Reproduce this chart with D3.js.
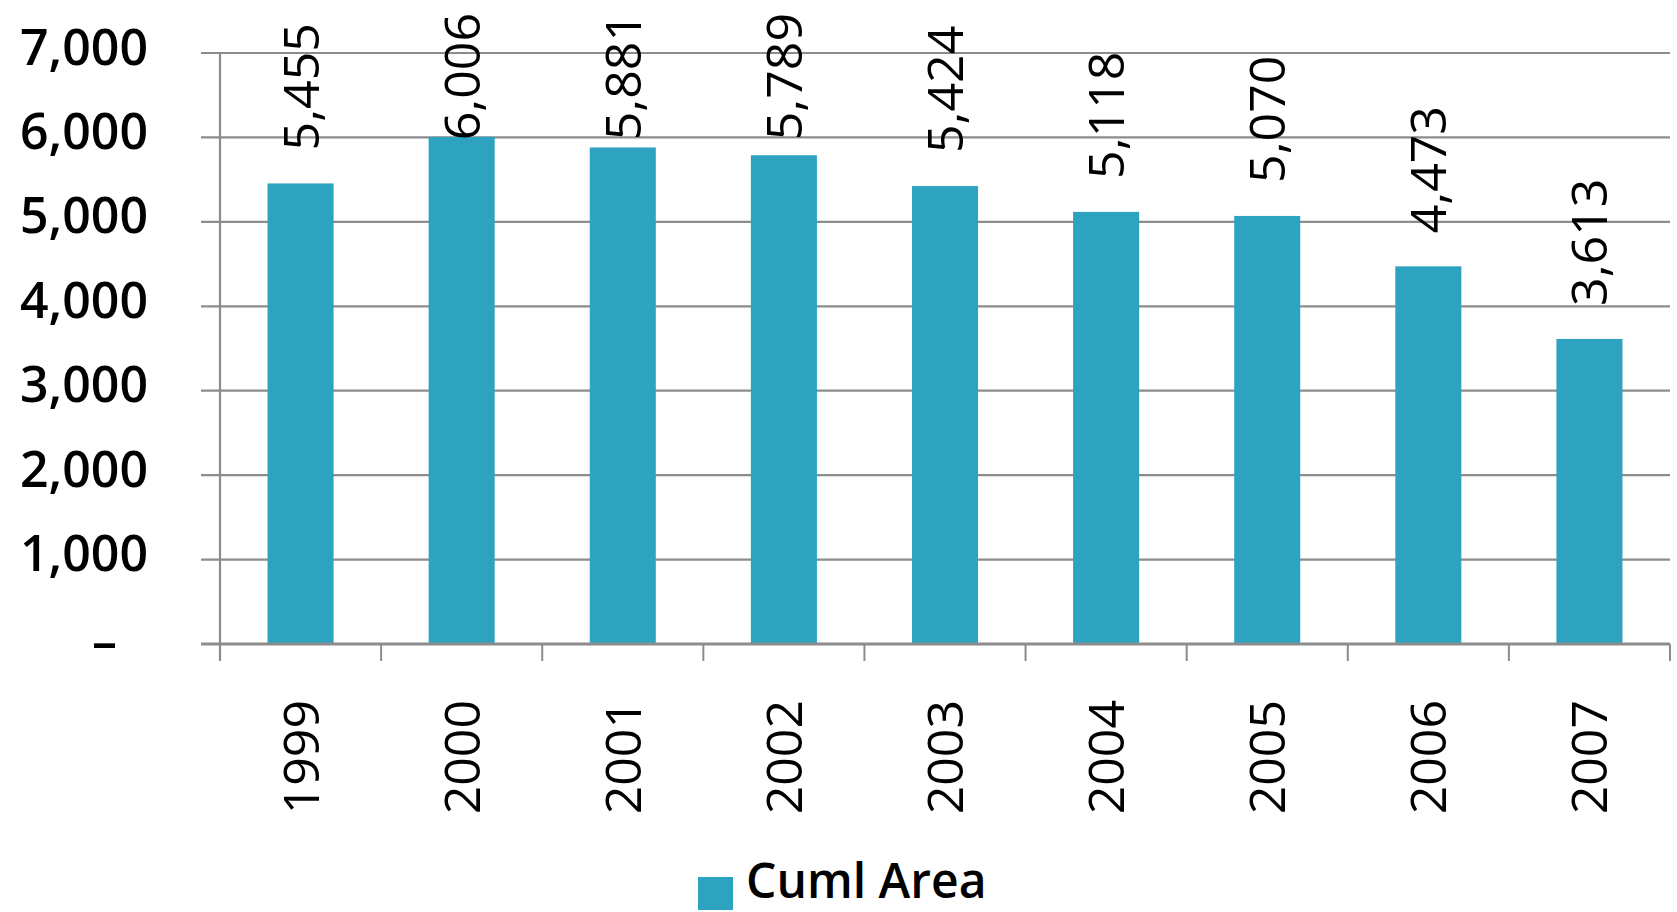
<!DOCTYPE html>
<html lang="en">
    <head>
        <meta charset="utf-8" />
        <title>Cuml Area</title>
        <script src="https://d3js.org/d3.v7.min.js"></script>
        <style>
            html, body { margin:0; padding:0; overflow:hidden; background-color: #ffffff }
            svg { display:block }
            text { font-family: "Open Sans", "Liberation Sans", sans-serif; fill: #000 }
        </style>
    </head>
    <body>
        <svg id="svg" width="1677" height="912"></svg>
        <script>

            // values
            let years = ["1999", "2000", "2001", "2002", "2003", "2004", "2005", "2006", "2007"];
            let cumlArea = [5455, 6006, 5881, 5789, 5424, 5118, 5070, 4473, 3613];
            let yTicks = [0, 1000, 2000, 3000, 4000, 5000, 6000, 7000];
            let seriesName = "Cuml Area";

            let plotLeft = 220, plotRight = 1670, plotTop = 53, plotBottom = 644;
            let barColor = "#2ea3c0";
            let gridColor = "#8c8c8c";

            let svg = d3.select("svg");

            let x = d3.scaleBand()
                .domain(years)
                .range([plotLeft, plotRight])
                .paddingInner(0.59)
                .paddingOuter(0.295);

            let y = d3.scaleLinear()
                .domain([0, 7000])
                .range([plotBottom, plotTop]);

            let fmt = d3.format(",");

            // gridlines (reach a bit left of the axis, like tick marks)
            let grid = svg.append("g");
            grid.selectAll("line")
                .data(yTicks.filter(d => d > 0))
                .join("line")
                .attr("x1", plotLeft - 19)
                .attr("x2", plotRight)
                .attr("y1", d => y(d))
                .attr("y2", d => y(d))
                .attr("stroke", gridColor)
                .attr("stroke-width", 2.2);

            // bars
            svg.append("g")
                .selectAll("rect")
                .data(cumlArea)
                .join("rect")
                .attr("x", (d, i) => x(years[i]))
                .attr("y", d => y(d))
                .attr("width", x.bandwidth())
                .attr("height", d => y(0) - y(d))
                .attr("fill", barColor);

            // y axis line
            svg.append("line")
                .attr("x1", plotLeft).attr("x2", plotLeft)
                .attr("y1", plotTop).attr("y2", plotBottom + 17)
                .attr("stroke", gridColor)
                .attr("stroke-width", 2.2);

            // x axis baseline + category ticks
            svg.append("line")
                .attr("x1", plotLeft - 19).attr("x2", plotRight)
                .attr("y1", plotBottom).attr("y2", plotBottom)
                .attr("stroke", gridColor)
                .attr("stroke-width", 3);

            let bounds = d3.range(years.length + 1).map(i => plotLeft + i * x.step());
            svg.append("g")
                .selectAll("line")
                .data(bounds)
                .join("line")
                .attr("x1", d => d).attr("x2", d => d)
                .attr("y1", plotBottom).attr("y2", plotBottom + 17)
                .attr("stroke", gridColor)
                .attr("stroke-width", 2);

            // y labels through the axis generator
            let yAxis = d3.axisLeft(y)
                .tickValues(yTicks)
                .tickSize(0)
                .tickPadding(0)
                .tickFormat(d => d === 0 ? "\u2013" : fmt(d));

            let yg = svg.append("g")
                .attr("transform", "translate(148,0)")
                .call(yAxis);
            yg.select(".domain").remove();
            yg.selectAll("text")
                .attr("fill", "#000")
                .style("font-size", "50px")
                .style("font-weight", 600)
                .style("font-family", "'Open Sans', sans-serif")
                .attr("dy", null)
                .attr("y", d => d === 0 ? -5 : -8)
                .attr("dominant-baseline", "central")
                .attr("x", d => d === 0 ? -31 : 0);

            // x labels (rotated)
            svg.append("g")
                .selectAll("text")
                .data(years)
                .join("text")
                .attr("transform", d => `translate(${x(d) + x.bandwidth() / 2 + 18},700) rotate(-90)`)
                .attr("text-anchor", "end")
                .style("font-size", "50px")
                .style("font-weight", 500)
                .text(d => d);

            // data labels (rotated, kept inside the top of the chart)
            svg.append("g")
                .selectAll("text")
                .data(cumlArea)
                .join("text")
                .attr("text-anchor", "start")
                .style("font-size", "50px")
                .style("font-weight", 500)
                .text(d => fmt(d))
                .each(function(d, i) {
                    let len = this.getComputedTextLength();
                    let base = Math.max(y(d) - 33, 13 + len);
                    let cx = x(years[i]) + x.bandwidth() / 2 + 18;
                    d3.select(this).attr("transform", `translate(${cx},${base}) rotate(-90)`);
                });

            // legend
            let legend = svg.append("g");
            legend.append("rect")
                .attr("x", 698)
                .attr("y", 877)
                .attr("width", 35)
                .attr("height", 33)
                .attr("fill", barColor);
            legend.append("text")
                .attr("x", 746)
                .attr("y", 898)
                .style("font-size", "48px")
                .style("font-weight", 600)
                .text(seriesName);

        </script>
    </body>
</html>
